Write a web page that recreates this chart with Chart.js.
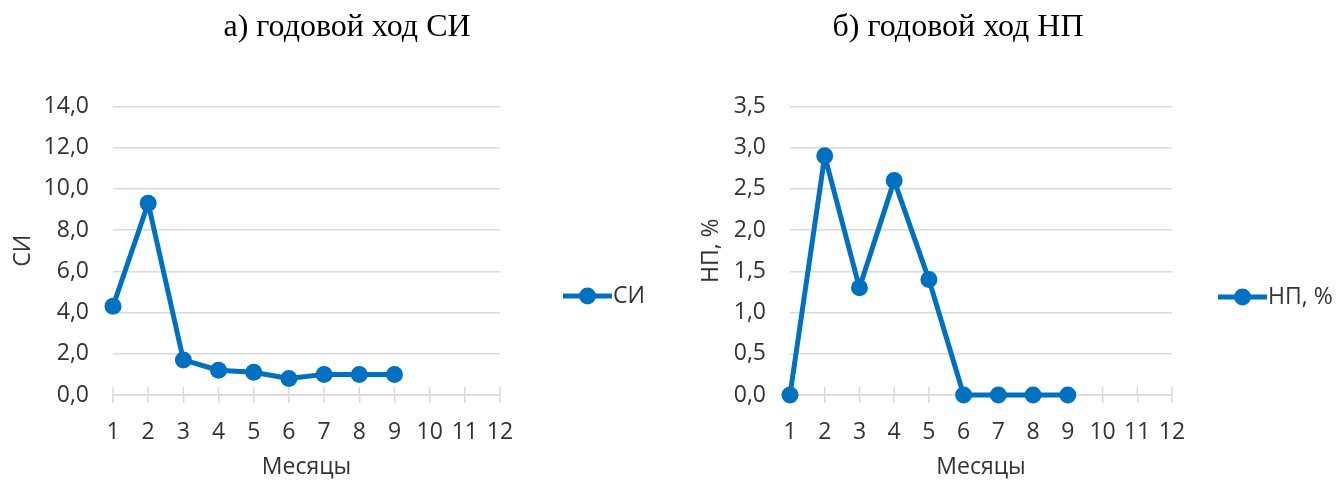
<!DOCTYPE html>
<html>
<head>
<meta charset="utf-8">
<script src="https://cdn.jsdelivr.net/npm/chart.js@4"></script>
<style>
  html, body { margin: 0; padding: 0; background: #fff; }
  #wrap { position: relative; width: 1336px; height: 482px; background: #fff; overflow: hidden; }
  canvas { position: absolute; top: 0; }
</style>
</head>
<body>
<div id="wrap">
  <canvas id="c1" width="694" height="482" style="left:0px;width:694px;height:482px"></canvas>
  <canvas id="c2" width="756" height="482" style="left:580px;width:756px;height:482px"></canvas>
</div>
<script>
// ---- data ----
const months = ['1','2','3','4','5','6','7','8','9','10','11','12'];
const siValues = [4.3, 9.3, 1.7, 1.2, 1.1, 0.8, 1.0, 1.0, 1.0];
const npValues = [0.0, 2.9, 1.3, 2.6, 1.4, 0.0, 0.0, 0.0, 0.0];
const siTicks = { min: 0, max: 14, step: 2 };
const npTicks = { min: 0, max: 3.5, step: 0.5 };
const titles = ['а) годовой ход СИ', 'б) годовой ход НП'];
const seriesNames = ['СИ', 'НП, %'];
const axisTitles = ['СИ', 'НП, %'];
const xTitle = 'Месяцы';

const BLUE = '#0070C0';
const GRID = '#d9d9d9';
const TXT = '#333333';
const SANS = "'Open Sans', sans-serif";

const crossTicks = {
  id: 'crossTicks',
  beforeDatasetsDraw(chart) {
    const xs = chart.scales.x, ctx = chart.ctx, b = chart.chartArea.bottom;
    ctx.save();
    ctx.strokeStyle = GRID; ctx.lineWidth = 1.5;
    for (let i = 0; i < xs.ticks.length; i++) {
      const x = xs.getPixelForTick(i);
      ctx.beginPath(); ctx.moveTo(x, b - 8); ctx.lineTo(x, b); ctx.stroke();
    }
    ctx.restore();
  }
};

const lineLegend = {
  id: 'lineLegend',
  afterDraw(chart, args, opts) {
    const ctx = chart.ctx;
    const lx = opts.x, ly = opts.y;
    const ds = chart.data.datasets[0];
    ctx.save();
    ctx.strokeStyle = ds.borderColor; ctx.lineWidth = 5;
    ctx.beginPath(); ctx.moveTo(lx, ly); ctx.lineTo(lx + 49, ly); ctx.stroke();
    ctx.fillStyle = ds.pointBackgroundColor;
    ctx.beginPath(); ctx.arc(lx + 24.5, ly, 8.5, 0, Math.PI * 2); ctx.fill();
    ctx.fillStyle = TXT; ctx.font = "23px " + SANS; ctx.textBaseline = 'middle';
    ctx.fillText(ds.label, lx + 50, ly);
    ctx.restore();
  }
};

function fmt(v) { return Number(v).toFixed(1).replace('.', ','); }

function makeChart(id, values, ticks, title, name, yTitle, yTitleOffset, yWidth, rightGap, legendPos) {
  return new Chart(document.getElementById(id), {
    type: 'line',
    data: {
      labels: months,
      datasets: [{
        label: name,
        data: values,
        borderColor: BLUE,
        backgroundColor: BLUE,
        pointBackgroundColor: BLUE,
        pointBorderWidth: 0,
        pointRadius: 8.5,
        borderWidth: 5,
        borderJoinStyle: 'round',
        borderCapStyle: 'round',
        tension: 0,
        fill: false,
        clip: false,
        yAxisID: 'y'
      }]
    },
    plugins: [crossTicks, lineLegend],
    options: {
      responsive: false,
      animation: false,
      devicePixelRatio: 1,
      layout: { padding: 0 },
      plugins: {
        legend: { display: false },
        tooltip: { enabled: false },
        title: {
          display: true,
          text: title,
          color: '#000',
          font: { family: "'Liberation Serif', 'Times New Roman', serif", size: 32, weight: 'normal' },
          padding: { top: 8, bottom: 60 }
        },
        lineLegend: legendPos
      },
      scales: {
        x: {
          type: 'category',
          offset: false,
          grid: { drawOnChartArea: false, drawTicks: true, tickLength: 8, color: GRID, lineWidth: 1.5 },
          border: { display: true, color: GRID, width: 1.5 },
          ticks: { color: TXT, font: { family: SANS, size: 23 }, padding: 16, autoSkip: false, maxRotation: 0 },
          title: { display: true, text: xTitle, color: TXT, font: { family: SANS, size: 23 }, padding: { top: 0, bottom: 1 } },
          afterFit(s) { s.height = 87; }
        },
        y: {
          position: 'left',
          min: ticks.min, max: ticks.max,
          grid: { color: GRID, lineWidth: 1.5, drawTicks: false },
          border: { display: false },
          ticks: { stepSize: ticks.step, color: TXT, font: { family: SANS, size: 23 }, padding: 24, callback: (v) => fmt(v) },
          title: { display: true, text: yTitle, color: TXT, font: { family: SANS, size: 23 }, padding: { top: yTitleOffset, bottom: 0 } },
          afterFit(s) { s.width = yWidth; }
        },
        gap: {
          position: 'right',
          type: 'linear',
          display: true,
          grid: { display: false },
          border: { display: false },
          ticks: { display: false },
          afterFit(s) { s.width = rightGap; }
        }
      }
    }
  });
}

makeChart('c1', siValues, siTicks, titles[0], seriesNames[0], axisTitles[0], 10, 113, 194, { x: 563, y: 296 });
makeChart('c2', npValues, npTicks, titles[1], seriesNames[1], axisTitles[1], 118, 210, 164, { x: 638, y: 297 });
</script>
</body>
</html>
